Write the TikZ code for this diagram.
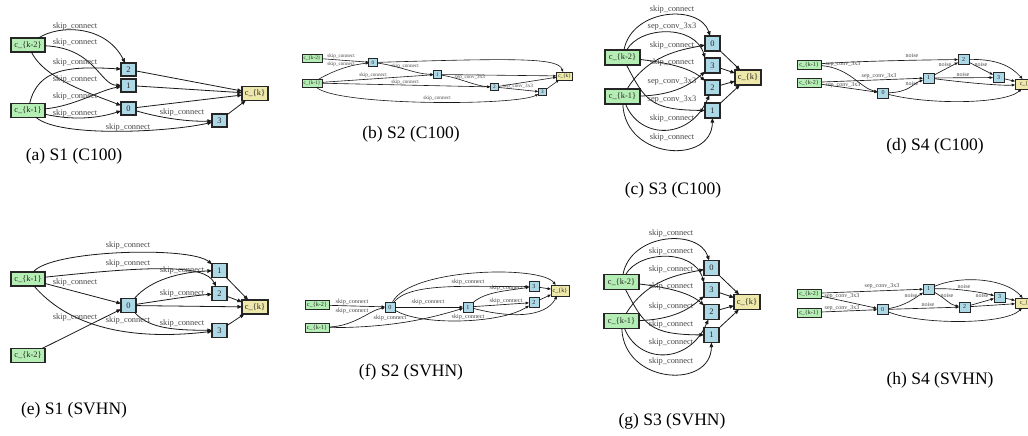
\documentclass[tikz,border=0pt]{standalone}
\usepackage{fontspec}
\setmainfont{Liberation Serif}
\usetikzlibrary{arrows.meta}
\definecolor{dsg}{HTML}{B4EEB4}
\definecolor{lbl}{HTML}{ADD8E6}
\definecolor{pgr}{HTML}{EEE8AA}
\tikzset{
 nd/.style={draw=black!85, inner sep=0pt, outer sep=0pt, text=black!85},
 fA/.style={font=\fontsize{8.4}{9}\selectfont},
 fB/.style={font=\fontsize{5.2}{6}\selectfont},
 fD/.style={font=\fontsize{6}{7}\selectfont},
 fF/.style={font=\fontsize{6.2}{7}\selectfont},
 gA/.style={nd, fA, fill=dsg, minimum width=34pt, minimum height=14pt, line width=1.1pt},
 bA/.style={nd, fA, fill=lbl, minimum width=15pt, minimum height=13pt, line width=1.1pt},
 yA/.style={nd, fA, fill=pgr, minimum width=26pt, minimum height=14pt, line width=1.1pt},
 eA/.style={draw=black!90, line width=0.8pt, -{Triangle[length=4.6pt,width=3.6pt]}},
 lA/.style={fA, text=black!72, inner sep=0pt},
 gB/.style={nd, fB, fill=dsg, minimum width=20pt, minimum height=8pt, line width=0.75pt},
 bB/.style={nd, fB, fill=lbl, minimum width=8.5pt, minimum height=7.5pt, line width=0.75pt},
 yB/.style={nd, fB, fill=pgr, minimum width=16.5pt, minimum height=8pt, line width=0.75pt},
 eB/.style={draw=black!90, line width=0.6pt, -{Triangle[length=3pt,width=2.4pt]}},
 lB/.style={fB, text=black!72, inner sep=0pt},
 gD/.style={nd, fD, fill=dsg, minimum width=24pt, minimum height=9pt, line width=0.85pt},
 bD/.style={nd, fD, fill=lbl, minimum width=11pt, minimum height=10pt, line width=0.85pt},
 yD/.style={nd, fD, fill=pgr, minimum width=24pt, minimum height=10pt, line width=0.85pt},
 eD/.style={draw=black!90, line width=0.65pt, -{Triangle[length=3.3pt,width=2.6pt]}},
 lD/.style={fD, text=black!72, inner sep=0pt},
 gF/.style={nd, fF, fill=dsg, minimum width=24pt, minimum height=9pt, line width=0.85pt},
 bF/.style={nd, fF, fill=lbl, minimum width=10pt, minimum height=10pt, line width=0.85pt},
 yF/.style={nd, fF, fill=pgr, minimum width=18pt, minimum height=11pt, line width=0.85pt},
 eF/.style={draw=black!90, line width=0.65pt, -{Triangle[length=3.4pt,width=2.7pt]}},
 lF/.style={fF, text=black!72, inner sep=0pt},
 captxt/.style={font=\fontsize{17.5}{20}\selectfont, inner sep=0pt}
}
\newcommand\cellSthree[9]{%
\node[gA,minimum width=35pt,minimum height=15pt] (#1k2) at (622.5,57.5) {c\_\{k-2\}};
\node[gA,minimum width=35pt,minimum height=15pt] (#1k1) at (622.5,96.5) {c\_\{k-1\}};
\node[bA,minimum height=15pt] (#1n0) at (712.5,43.5) {0};
\node[bA,minimum height=15pt] (#1n3) at (712.5,65.5) {3};
\node[bA,minimum height=15pt] (#1n2) at (712.5,87.5) {2};
\node[bA,minimum height=15pt] (#1n1) at (712.5,110.5) {1};
\node[yA,minimum height=15pt] (#1ck) at (748,77.5) {c\_\{k\}};
\draw[eA] (#1k2) .. controls (632,8) and (700,4) .. (#1n0);
\draw[eA] (#1k2) .. controls (640,26) and (695,24) .. (#1n3.north west);
\draw[eA] (#1k1) .. controls (648,55) and (680,50) .. (#1n0);
\draw[eA] (#1k2) .. controls (680,64) and (695,72) .. (#1n2);
\draw[eA] (#1k1) .. controls (680,95) and (695,80) .. (#1n3);
\draw[eA] (#1k2) .. controls (645,100) and (650,110) .. (#1n1);
\draw[eA] (#1k1) .. controls (640,140) and (690,140) .. (#1n2);
\draw[eA] (#1k1) .. controls (625,160) and (712,165) .. (#1n1);
\draw[eA] (#1n0) -- (#1ck);
\draw[eA] (#1n3) -- (#1ck);
\draw[eA] (#1n2) -- (#1ck);
\draw[eA] (#1n1) -- (#1ck);
\node[lA] (#1l1) at (672,9) {#2};
\node[lA] (#1l2) at (672,27) {#3};
\node[lA] (#1l3) at (672,45) {#4};
\node[lA] (#1l4) at (672,62) {#5};
\node[lA] (#1l5) at (672,82) {#6};
\node[lA] (#1l6) at (672,100) {#7};
\node[lA] (#1l7) at (672,118) {#8};
\node[lA] (#1l8) at (672,137) {#9};
}
\begin{document}
\begin{tikzpicture}[x=1pt,y=-1pt]
\useasboundingbox[fill=white] (0,0) rectangle (1028,436);

% ---------------- (a) ----------------
\node[gA] (a2) at (28,45) {c\_\{k-2\}};
\node[gA] (a1) at (28,110.5) {c\_\{k-1\}};
\node[bA] (a02) at (128.5,69.5) {2};
\node[bA] (a01) at (128.5,85.5) {1};
\node[bA] (a00) at (128.5,108.5) {0};
\node[bA] (a03) at (219.5,120.5) {3};
\node[yA] (ak) at (255,93.5) {c\_\{k\}};
\draw[eA] (a2) .. controls (58,25) and (105,24) .. (a02);
\draw[eA] (a2) .. controls (95,48) and (100,85) .. (a01);
\draw[eA] (a2) .. controls (45,80) and (95,95) .. (a00);
\draw[eA] (a1) .. controls (38,68) and (70,66) .. (a02);
\draw[eA] (a1) .. controls (75,106) and (100,90) .. (a01);
\draw[eA] (a1) .. controls (80,122) and (105,116) .. (a00);
\draw[eA] (a1) .. controls (60,138) and (170,132) .. (a03);
\draw[eA] (a00) .. controls (160,118) and (190,122) .. (a03);
\draw[eA] (a02) -- (ak);
\draw[eA] (a01) -- (ak);
\draw[eA] (a00) -- (ak);
\draw[eA] (a03) -- (ak);
\node[lA] (al1) at (75,26) {skip\_connect};
\node[lA] (al2) at (75,42) {skip\_connect};
\node[lA] (al3) at (75,62) {skip\_connect};
\node[lA] (al4) at (75,79) {skip\_connect};
\node[lA] (al5) at (75,96) {skip\_connect};
\node[lA] (al6) at (75,113.5) {skip\_connect};
\node[lA] (al7) at (128,127) {skip\_connect};
\node[lA] (al8) at (182,112) {skip\_connect};
\node[captxt] (capa) at (74,156) {(a) S1 (C100)};

% ---------------- (b) ----------------
\node[gB] (b2) at (312,58) {c\_\{k-2\}};
\node[gB] (b1) at (312,83) {c\_\{k-1\}};
\node[bB] (b00) at (373,62.5) {0};
\node[bB] (b01) at (437.5,74.5) {1};
\node[bB] (b02) at (494.5,87) {2};
\node[bB] (b03) at (542.5,92) {3};
\node[yB] (bk) at (564.5,76) {c\_\{k\}};
\draw[eB] (b2) -- (b00);
\draw[eB] (b1) .. controls (335,70) and (350,65) .. (b00);
\draw[eB] (b00) .. controls (400,66) and (415,74) .. (b01);
\draw[eB] (b1) -- (b01);
\draw[eB] (b1) -- (b02);
\draw[eB] (b01) .. controls (460,78) and (475,86) .. (b02);
\draw[eB] (b02) -- (b03);
\draw[eB] (b1) .. controls (335,106) and (515,106) .. (b03);
\draw[eB] (b00) .. controls (520,58) and (558,58) .. (bk);
\draw[eB] (b01) -- (bk);
\draw[eB] (b02) -- (bk);
\draw[eB] (b03) -- (bk);
\node[lB] (bl1) at (341,56) {skip\_connect};
\node[lB] (bl2) at (341,64) {skip\_connect};
\node[lB] (bl3) at (405,66) {skip\_connect};
\node[lB] (bl4) at (373,75) {skip\_connect};
\node[lB] (bl5) at (405,82) {skip\_connect};
\node[lB] (bl6) at (470,77) {sep\_conv\_3x3};
\node[lB] (bl7) at (518,86.5) {sep\_conv\_3x3};
\node[lB] (bl8) at (437,98) {skip\_connect};
\node[captxt] (capb) at (411,134) {(b) S2 (C100)};

% ---------------- (c) ----------------
\cellSthree{c}{skip\_connect}{sep\_conv\_3x3}{skip\_connect}{skip\_connect}{sep\_conv\_3x3}{sep\_conv\_3x3}{skip\_connect}{skip\_connect}
\node[captxt] (capc) at (673,190) {(c) S3 (C100)};

% ---------------- (d) ----------------
\node[gD] (d1) at (809,64.5) {c\_\{k-1\}};
\node[gD] (d2) at (809,82.5) {c\_\{k-2\}};
\node[bD] (d00) at (883,93) {0};
\node[bD] (d01) at (928.5,78) {1};
\node[bD] (d02) at (963.5,59.5) {2};
\node[bD] (d03) at (998.5,77.5) {3};
\node[yD] (dk) at (1027,84) {c\_\{k\}};
\draw[eD] (d1) .. controls (860,61) and (920,60) .. (d02);
\draw[eD] (d1) .. controls (850,68) and (860,88) .. (d00);
\draw[eD] (d2) -- (d01);
\draw[eD] (d2) -- (d00);
\draw[eD] (d00) .. controls (910,92) and (912,84) .. (d01);
\draw[eD] (d01) -- (d02);
\draw[eD] (d02) -- (d03);
\draw[eD] (d01) -- (d03);
\draw[eD] (d02) .. controls (995,59) and (1010,65) .. (dk);
\draw[eD] (d03) -- (dk);
\draw[eD] (d01) .. controls (960,82) and (1000,86) .. (dk);
\draw[eD] (d00) .. controls (930,105) and (1005,104) .. (dk);
\node[lD] (dl1) at (912,56) {noise};
\node[lD] (dl2) at (843,64) {sep\_conv\_3x3};
\node[lD] (dl3) at (879,76) {sep\_conv\_3x3};
\node[lD] (dl4) at (843,85) {sep\_conv\_3x3};
\node[lD] (dl5) at (912,84) {noise};
\node[lD] (dl6) at (945,65) {noise};
\node[lD] (dl7) at (981,65) {noise};
\node[lD] (dl8) at (963,74.5) {noise};
\node[captxt] (capd) at (935,146) {(d) S4 (C100)};

% ---------------- (e) ----------------
\node[gA] (e1) at (28,279) {c\_\{k-1\}};
\node[gA] (e2) at (28,355.5) {c\_\{k-2\}};
\node[bA,minimum height=14pt] (e00) at (128.5,305.5) {0};
\node[bA,minimum height=14pt] (e01) at (219.5,270.5) {1};
\node[bA,minimum height=14pt] (e02) at (219.5,293.5) {2};
\node[bA,minimum height=14pt] (e03) at (219.5,330.5) {3};
\node[yA] (ek) at (255,307) {c\_\{k\}};
\draw[eA] (e1) .. controls (50,250) and (190,246) .. (e01);
\draw[eA] (e1) .. controls (150,266) and (205,264) .. (e02);
\draw[eA] (e1) -- (e00);
\draw[eA] (e00) .. controls (150,280) and (180,272) .. (e01);
\draw[eA] (e00) .. controls (165,300) and (190,296) .. (e02);
\draw[eA] (e2) -- (e00);
\draw[eA] (e1) .. controls (65,322) and (120,342) .. (e03);
\draw[eA] (e00) .. controls (150,330) and (180,330) .. (e03);
\draw[eA] (e00) -- (ek);
\draw[eA] (e01) -- (ek);
\draw[eA] (e02) -- (ek);
\draw[eA] (e03) -- (ek);
\node[lA] (el1) at (128,245) {skip\_connect};
\node[lA] (el2) at (128,263) {skip\_connect};
\node[lA] (el3) at (75,282) {skip\_connect};
\node[lA] (el4) at (182,270) {skip\_connect};
\node[lA] (el5) at (182,293) {skip\_connect};
\node[lA] (el6) at (75,317) {skip\_connect};
\node[lA] (el7) at (128,320) {skip\_connect};
\node[lA] (el8) at (182,323) {skip\_connect};
\node[captxt] (cape) at (74,410) {(e) S1 (SVHN)};

% ---------------- (f) ----------------
\node[gF] (f2) at (317,305) {c\_\{k-2\}};
\node[gF] (f1) at (317,327.5) {c\_\{k-1\}};
\node[bF] (f00) at (390,307) {0};
\node[bF] (f01) at (468,307) {1};
\node[bF] (f03) at (534,286.5) {3};
\node[bF] (f02) at (534,302.5) {2};
\node[yF] (fk) at (560,290.5) {c\_\{k\}};
\draw[eF] (f2) -- (f00);
\draw[eF] (f1) .. controls (355,326) and (370,310) .. (f00);
\draw[eF] (f00) -- (f01);
\draw[eF] (f1) .. controls (400,328) and (440,315) .. (f01);
\draw[eF] (f00) .. controls (410,282) and (470,287) .. (f03);
\draw[eF] (f01) .. controls (485,292) and (505,291) .. (f03);
\draw[eF] (f01) -- (f02);
\draw[eF] (f00) .. controls (420,326) and (500,324) .. (f02);
\draw[eF] (f00) .. controls (410,268) and (540,265) .. (fk);
\draw[eF] (f03) -- (fk);
\draw[eF] (f02) -- (fk);
\draw[eF] (f01) .. controls (510,318) and (545,318) .. (fk);
\node[lF] (fl1) at (352,302.5) {skip\_connect};
\node[lF] (fl2) at (352,311) {skip\_connect};
\node[lF] (fl3) at (428,302.5) {skip\_connect};
\node[lF] (fl4) at (390,318) {skip\_connect};
\node[lF] (fl5) at (468,282.5) {skip\_connect};
\node[lF] (fl6) at (506,288.5) {skip\_connect};
\node[lF] (fl7) at (506,301.5) {skip\_connect};
\node[lF] (fl8) at (468,317) {skip\_connect};
\node[captxt] (capf) at (411,372) {(f) S2 (SVHN)};

% ---------------- (g) ----------------
\begin{scope}[shift={(-1,224.5)}]
\cellSthree{g}{skip\_connect}{skip\_connect}{skip\_connect}{skip\_connect}{skip\_connect}{skip\_connect}{skip\_connect}{skip\_connect}
\end{scope}
\node[captxt] (capg) at (672,421) {(g) S3 (SVHN)};

% ---------------- (h) ----------------
\node[gD] (h2) at (809,293.5) {c\_\{k-2\}};
\node[gD] (h1) at (809,312.5) {c\_\{k-1\}};
\node[bD] (h00) at (882.5,309.5) {0};
\node[bD] (h01) at (928.5,289) {1};
\node[bD] (h02) at (964.5,307) {2};
\node[bD] (h03) at (999.5,297) {3};
\node[yD] (hk) at (1027,303) {c\_\{k\}};
\draw[eD] (h2) -- (h01);
\draw[eD] (h2) -- (h00);
\draw[eD] (h1) -- (h00);
\draw[eD] (h00) .. controls (905,306) and (915,298) .. (h01);
\draw[eD] (h01) .. controls (945,298) and (950,305) .. (h02);
\draw[eD] (h01) .. controls (955,288) and (980,292) .. (h03);
\draw[eD] (h02) -- (h03);
\draw[eD] (h00) -- (h02);
\draw[eD] (h01) .. controls (960,275) and (1005,278) .. (hk);
\draw[eD] (h03) -- (hk);
\draw[eD] (h02) -- (hk);
\draw[eD] (h00) .. controls (920,325) and (1005,325) .. (hk);
\node[lD] (hl1) at (882,286.5) {sep\_conv\_3x3};
\node[lD] (hl2) at (842,296) {sep\_conv\_3x3};
\node[lD] (hl3) at (842,308.5) {sep\_conv\_3x3};
\node[lD] (hl4) at (911,296) {noise};
\node[lD] (hl5) at (947,296) {noise};
\node[lD] (hl6) at (964,286.5) {noise};
\node[lD] (hl7) at (982,296) {noise};
\node[lD] (hl8) at (928,304.5) {noise};
\node[captxt] (caph) at (940,380) {(h) S4 (SVHN)};
\end{tikzpicture}
\end{document}
